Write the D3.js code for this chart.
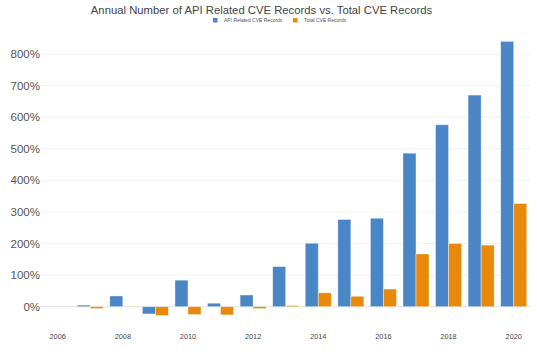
<!DOCTYPE html>
<html><head><meta charset="utf-8">
<script src="https://cdn.jsdelivr.net/npm/d3@7"></script>
<style>body{margin:0;background:#fff}svg{display:block}</style>
</head><body>
<svg id="c" width="537" height="358"></svg>
<script>
const years = ["2006","2007","2008","2009","2010","2011","2012","2013","2014","2015","2016","2017","2018","2019","2020"];
const apiValues = [0,5,34,-23,84,11,37,127,201,276,280,486,576,670,840];
const totalValues = [0,-6,1,-28,-25,-26,-6,4,44,33,56,167,200,195,327];
const seriesNames = ["API Related CVE Records","Total CVE Records"];
const yTicks = [0,100,200,300,400,500,600,700,800];
const xTickLabels = ["2006","2008","2010","2012","2014","2016","2018","2020"];
const colors = ["#4a86c6","#e8890b"];

const svg = d3.select("#c");
const font = "Helvetica, Arial, 'Liberation Sans', sans-serif";
const left = 41.4, right = 530, y0px = 306.7, y800px = 54;

const x = d3.scaleBand().domain(years).range([left, right]).paddingInner(0.2).paddingOuter(0.1);
const xs = d3.scaleBand().domain([0,1]).range([0, x.bandwidth()]);
const y = d3.scaleLinear().domain([0,800]).range([y0px, y800px]);

// gridlines
svg.append("g").selectAll("line").data(yTicks).join("line")
  .attr("x1", 40).attr("x2", right)
  .attr("y1", d => y(d)).attr("y2", d => y(d))
  .attr("stroke", d => d === 0 ? "#e0e0e0" : "#f2f2f2").attr("stroke-width", 1);

// y labels
svg.append("g").selectAll("text").data(yTicks).join("text")
  .attr("x", 40).attr("y", d => y(d) + 4)
  .attr("text-anchor", "end").attr("font-family", font).attr("font-size", 11.5)
  .attr("fill", "#555").text(d => d + "%");

// bars
const series = [apiValues, totalValues];
series.forEach((vals, si) => {
  svg.append("g").selectAll("rect").data(years.map((yr, i) => ({yr, v: vals[i]}))).join("rect")
    .attr("x", d => x(d.yr) + xs(si))
    .attr("width", xs.bandwidth())
    .attr("y", d => Math.min(y(d.v), y(0)))
    .attr("height", d => Math.abs(y(d.v) - y(0)))
    .attr("fill", colors[si])
    .attr("stroke", "rgba(255,255,255,0.5)").attr("stroke-width", 0.8);
});

// x labels
svg.append("g").selectAll("text").data(xTickLabels).join("text")
  .attr("x", d => x(d) + x.bandwidth() / 2).attr("y", 339)
  .attr("text-anchor", "middle").attr("font-family", font).attr("font-size", 7.3)
  .attr("fill", "#444").text(d => d);

// title
svg.append("text").attr("x", 261.5).attr("y", 14).attr("text-anchor", "middle")
  .attr("font-family", font).attr("font-size", 11.3).attr("fill", "#444")
  .text("Annual Number of API Related CVE Records vs. Total CVE Records");

// legend
const legX = [213, 293];
seriesNames.forEach((n, i) => {
  svg.append("rect").attr("x", legX[i]).attr("y", 18).attr("width", 4.5).attr("height", 4.5).attr("fill", colors[i]);
  svg.append("text").attr("x", legX[i] + 11).attr("y", 22).attr("font-family", font)
    .attr("font-size", 5).attr("fill", "#555").text(n);
});
</script>
</body></html>
